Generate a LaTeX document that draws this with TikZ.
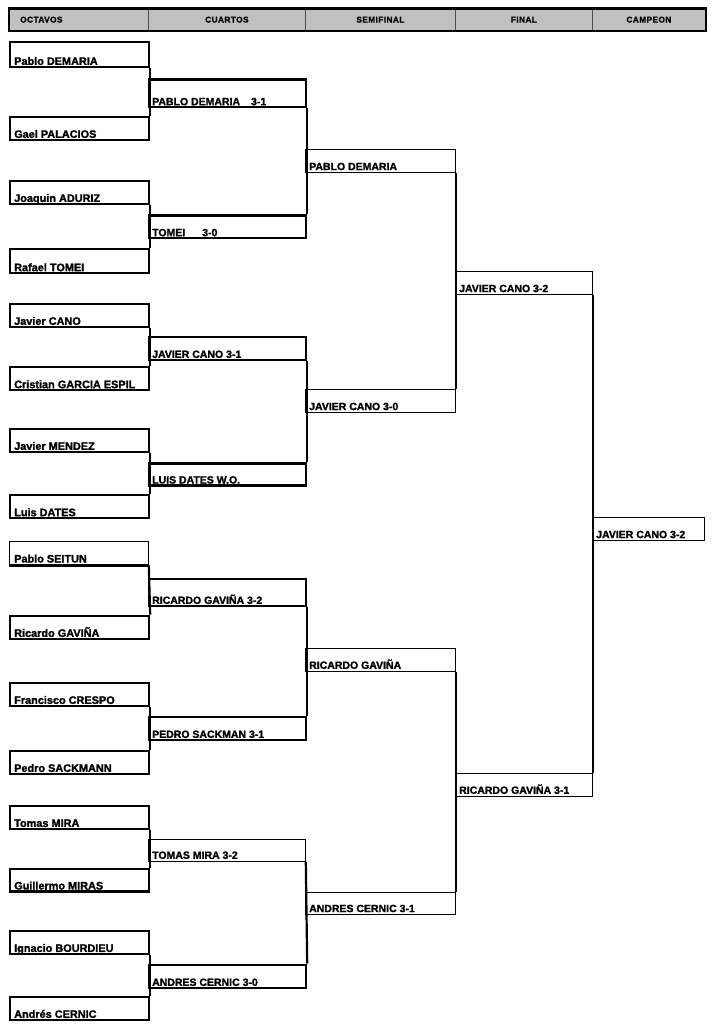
\documentclass[tikz,border=0pt]{standalone}
\usepackage{fontspec}
\setmainfont{Liberation Sans}[BoldFont={Liberation Sans Bold}, BoldFeatures={FakeBold=1.6}]
\usepackage{tikz}
\definecolor{mygray1}{RGB}{192, 192, 192}
\definecolor{mygray4}{RGB}{80, 80, 80}
\tikzset{
  gruesa/.style = {line width=2.2pt},
  fina/.style = {line width=0.8pt},
  celda/.style = {rectangle, draw, inner sep=0pt, anchor=north west},
  cabecera/.style = {celda, fill=mygray1, draw=mygray4, fina, minimum height=21.5pt},
  titulo/.style = {inner sep=0pt, font=\bfseries\fontsize{8.3}{9}\selectfont\addfontfeatures{LetterSpace=5}},
  nombre/.style = {anchor=base west, inner sep=0pt, xshift=4pt, yshift=3pt, font=\bfseries\fontsize{10.5}{12}\selectfont},
  octavo/.style = {celda, gruesa, minimum width=139pt},
  cuarto/.style = {celda, gruesa, minimum width=157pt},
  semi/.style = {celda, fina, minimum width=150pt},
  final/.style = {celda, fina, minimum width=137pt}
}

\begin{document}
\begin{tikzpicture}[x=1pt, y=-1pt]
\useasboundingbox (0,0) rectangle (713,1031);
% cabecera
\node[cabecera, minimum width=139pt] (h1) at (9,8.5) {};
\node[cabecera, minimum width=157pt] (h2) at (148,8.5) {};
\node[cabecera, minimum width=150pt] (h3) at (305,8.5) {};
\node[cabecera, minimum width=137pt] (h4) at (455,8.5) {};
\node[cabecera, minimum width=113pt] (h5) at (592,8.5) {};
\draw[line width=2.4pt] (h1.north west) rectangle (h5.south east);
\node[titulo, anchor=west, xshift=11pt] (t1) at (h1.west) {OCTAVOS};
\node[titulo] (t2) at (h2.center) {CUARTOS};
\node[titulo] (t3) at (h3.center) {SEMIFINAL};
\node[titulo] (t4) at (h4.center) {FINAL};
\node[titulo] (t5) at (h5.center) {CAMPEON};

% octavos
\node[octavo, minimum height=25pt] (o1) at (9,40.7) {};
\node[octavo, minimum height=22.7pt] (o2) at (9,116) {};
\node[octavo, minimum height=22.7pt] (o3) at (9,180) {};
\node[octavo, minimum height=24.3pt] (o4) at (9,247.7) {};
\node[octavo, minimum height=23pt] (o5) at (9,302.7) {};
\node[octavo, minimum height=23pt] (o6) at (9,366) {};
\node[octavo, minimum height=23pt] (o7) at (9,427.7) {};
\node[octavo, minimum height=23pt] (o8) at (9,494) {};
\node[octavo, fina, minimum height=24pt] (o9) at (9,540.7) {};
\draw[gruesa] (o9.south west) -- (o9.south east);
\node[octavo, minimum height=23pt] (o10) at (9,614.7) {};
\node[octavo, minimum height=22.7pt] (o11) at (9,682) {};
\node[octavo, minimum height=22.7pt] (o12) at (9,750) {};
\node[octavo, minimum height=23pt] (o13) at (9,804.7) {};
\node[octavo, minimum height=22.3pt] (o14) at (9,868) {};
\node[octavo, minimum height=22.7pt] (o15) at (9,930) {};
\node[octavo, minimum height=23pt] (o16) at (9,995.7) {};

\tikzset{nombre/.append style={xshift=1pt, font=\bfseries\fontsize{10.9}{12}\selectfont}}
\node[nombre] (n1) at (o1.south west) {Pablo DEMARIA};
\node[nombre] (n2) at (o2.south west) {Gael PALACIOS};
\node[nombre] (n3) at (o3.south west) {Joaquin ADURIZ};
\node[nombre] (n4) at (o4.south west) {Rafael TOMEI};
\node[nombre] (n5) at (o5.south west) {Javier CANO};
\node[nombre] (n6) at (o6.south west) {Cristian GARCIA ESPIL};
\node[nombre] (n7) at (o7.south west) {Javier MENDEZ};
\node[nombre] (n8) at (o8.south west) {Luis DATES};
\node[nombre] (n9) at (o9.south west) {Pablo SEITUN};
\node[nombre] (n10) at (o10.south west) {Ricardo GAVIÑA};
\node[nombre] (n11) at (o11.south west) {Francisco CRESPO};
\node[nombre] (n12) at (o12.south west) {Pedro SACKMANN};
\node[nombre] (n13) at (o13.south west) {Tomas MIRA};
\node[nombre] (n14) at (o14.south west) {Guillermo MIRAS};
\node[nombre] (n15) at (o15.south west) {Ignacio BOURDIEU};
\node[nombre] (n16) at (o16.south west) {Andrés CERNIC};
\tikzset{nombre/.append style={xshift=-1pt, font=\bfseries\fontsize{10.5}{12}\selectfont}}

% cuartos
\node[cuarto, minimum height=27.7pt] (c1) at (148,78.3) {};
\node[cuarto, minimum height=22.7pt] (c2) at (148,214.3) {};
\node[cuarto, minimum height=22.7pt] (c3) at (148,336) {};
\node[cuarto, minimum height=22pt] (c4) at (148,462.3) {};
\node[cuarto, minimum height=27pt] (c5) at (148,577.7) {};
\node[cuarto, minimum height=22.7pt] (c6) at (148,716) {};
\node[cuarto, fina, minimum height=22.3pt] (c7) at (148,838.7) {};
\node[cuarto, minimum height=23pt] (c8) at (148,963.7) {};

\node[nombre] (m1) at (c1.south west) {PABLO DEMARIA\hspace{11pt}3-1};
\node[nombre] (m2) at (c2.south west) {TOMEI\hspace{17pt}3-0};
\node[nombre] (m3) at (c3.south west) {JAVIER CANO 3-1};
\node[nombre] (m4) at (c4.south west) {LUIS DATES W.O.};
\node[nombre] (m5) at (c5.south west) {RICARDO GAVIÑA 3-2};
\node[nombre] (m6) at (c6.south west) {PEDRO SACKMAN 3-1};
\node[nombre] (m7) at (c7.south west) {TOMAS MIRA 3-2};
\node[nombre] (m8) at (c8.south west) {ANDRES CERNIC 3-0};

% semifinal, final y campeon
\node[semi, minimum height=23pt] (s1) at (305,149.3) {};
\node[semi, minimum height=23pt] (s2) at (305,389.3) {};
\node[semi, minimum height=22.7pt] (s3) at (305,648.3) {};
\node[semi, minimum height=22.6pt] (s4) at (305,891.7) {};
\node[final, minimum height=23.3pt] (f1) at (455,271) {};
\node[final, minimum height=22.7pt] (f2) at (455,773.3) {};
\node[celda, fina, minimum width=112pt, minimum height=23pt] (k) at (592,517.3) {};

\node[nombre] (p1) at (s1.south west) {PABLO DEMARIA};
\node[nombre] (p2) at (s2.south west) {JAVIER CANO 3-0};
\node[nombre] (p3) at (s3.south west) {RICARDO GAVIÑA};
\node[nombre] (p4) at (s4.south west) {ANDRES CERNIC 3-1};
\node[nombre] (q1) at (f1.south west) {JAVIER CANO 3-2};
\node[nombre] (q2) at (f2.south west) {RICARDO GAVIÑA 3-1};
\node[nombre] (w) at (k.south west) {JAVIER CANO 3-2};

% llaves
\draw[gruesa] (o1.south east) -- (o2.north east);
\draw[gruesa] (o3.south east) -- (o4.north east);
\draw[gruesa] (o5.south east) -- (o6.north east);
\draw[gruesa] (o7.south east) -- (o8.north east);
\draw[gruesa] (o9.south east) -- (o10.north east);
\draw[gruesa] (o11.south east) -- (o12.north east);
\draw[gruesa] (o13.south east) -- (o14.north east);
\draw[gruesa] (o15.south east) -- (o16.north east);
\draw[gruesa] (c1.south east) -- (c2.north east);
\draw[gruesa] (c3.south east) -- (c4.north east);
\draw[gruesa] (c5.south east) -- (c6.north east);
\draw[gruesa] (c7.south east) -- (c8.north east);
\draw[gruesa] (s1.south east) -- (s2.north east);
\draw[gruesa] (s3.south east) -- (s4.north east);
\draw[gruesa] (f1.south east) -- (f2.north east);
\end{tikzpicture}
\end{document}
